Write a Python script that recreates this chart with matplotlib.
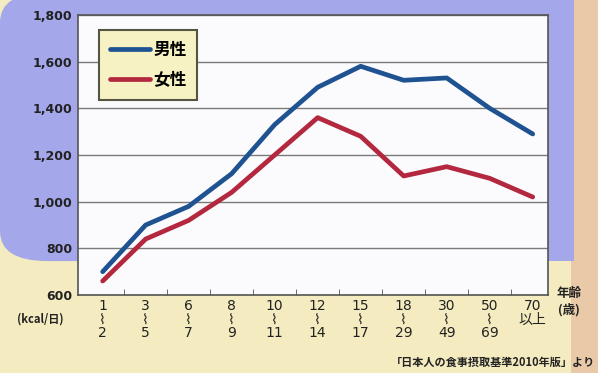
import matplotlib.pyplot as plt
from matplotlib.patches import FancyBboxPatch

plt.rcParams['font.family'] = ['Noto Sans CJK JP', 'DejaVu Sans']

# basal metabolic rate by age group (kcal/day)
age_groups = ['1\n⌇\n2', '3\n⌇\n5', '6\n⌇\n7', '8\n⌇\n9', '10\n⌇\n11', '12\n⌇\n14',
              '15\n⌇\n17', '18\n⌇\n29', '30\n⌇\n49', '50\n⌇\n69', '70\n以上']
male = [700, 900, 980, 1120, 1330, 1490, 1580, 1520, 1530, 1400, 1290]
female = [660, 840, 920, 1040, 1200, 1360, 1280, 1110, 1150, 1100, 1020]
y_ticks = [600, 800, 1000, 1200, 1400, 1600, 1800]
y_labels = ['600', '800', '1,000', '1,200', '1,400', '1,600', '1,800']

fig = plt.figure(figsize=(5.98, 3.73), dpi=100)
fig.patch.set_facecolor('#f4ecc0')

# blue panel behind the chart, peach strip on the right edge
for xy, w, h, style, col in [((0.0, 0.30), 0.975, 0.72, 'round,pad=0,rounding_size=0.08', '#a4a7ea'),
                             ((0.955, 0.0), 0.05, 1.0, 'square,pad=0', '#e9c9a8'),
                             ((0.90, 0.30), 0.06, 0.72, 'square,pad=0', '#a4a7ea')]:
    fig.patches.append(FancyBboxPatch(xy, w, h, boxstyle=style, transform=fig.transFigure,
                                      facecolor=col, edgecolor='none', zorder=-10))

ax = fig.add_axes([0.130, 0.209, 0.786, 0.751])
ax.set_facecolor('#fbfbfd')
x = range(len(age_groups))
ax.plot(x, male, color='#1e5290', lw=3.4, solid_capstyle='round', solid_joinstyle='round',
        label='男性', zorder=3)
ax.plot(x, female, color='#b3283f', lw=3.4, solid_capstyle='round', solid_joinstyle='round',
        label='女性', zorder=3)

ax.set_xlim(-0.58, 10.35)
ax.set_ylim(600, 1800)
ax.set_yticks(y_ticks)
ax.set_yticklabels(y_labels, fontsize=9, fontweight='bold', color='#222222',
                   family=['DejaVu Sans'])
ax.set_xticks(list(x))
ax.set_xticklabels(age_groups, fontsize=10, color='#222222', linespacing=0.95, va='top',
                   family=['DejaVu Sans', 'Noto Sans CJK JP'])
ax.tick_params(axis='y', length=0, pad=4)
ax.tick_params(axis='x', length=0, pad=3)
ax.set_xticks([i + 0.5 for i in range(10)], minor=True)
ax.tick_params(axis='x', which='minor', direction='in', length=4, color='#555555')
ax.grid(axis='y', color='#7a7a7a', lw=1.0)
for s in ax.spines.values():
    s.set_color('#555555')
    s.set_linewidth(1.2)

leg = ax.legend(loc='upper left', bbox_to_anchor=(0.035, 0.965), frameon=True,
                handlelength=2.4, handletextpad=0.2, borderpad=0.45, labelspacing=0.75,
                prop={'weight': 'bold', 'size': 12, 'family': 'Noto Sans CJK JP'})
leg.get_frame().set_facecolor('#f6f2c4')
leg.get_frame().set_edgecolor('#555544')
leg.get_frame().set_linewidth(1.5)
leg.get_frame().set_alpha(1)
leg.get_frame().set_boxstyle('square,pad=0.2')

fig.text(0.068, 0.135, '(kcal/日)', fontsize=8, fontweight='bold', ha='center', color='#222222')
fig.text(0.952, 0.19, '年齢\n(歳)', fontsize=9, fontweight='bold', ha='center', va='center',
         color='#222222', linespacing=1.3)
fig.text(0.995, 0.018, '「日本人の食事摂取基準2010年版」より', fontsize=8, fontweight='bold',
         ha='right', color='#222222')

fig.savefig('out.png', dpi=100, facecolor=fig.get_facecolor())
